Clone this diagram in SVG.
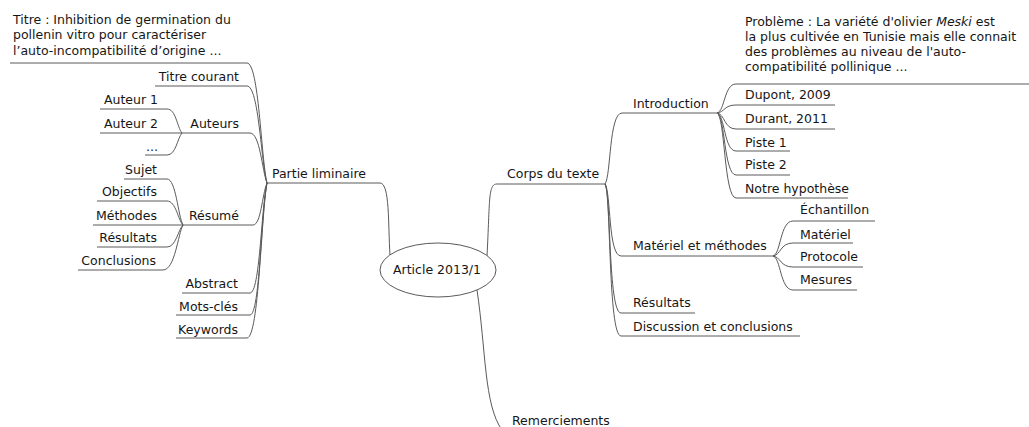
<svg xmlns="http://www.w3.org/2000/svg" width="1029" height="427" viewBox="0 0 1029 427">
<style>
text{font-family:"DejaVu Sans","Liberation Sans",sans-serif;font-size:12.5px;fill:#161616}
.e{text-anchor:end}
.m{text-anchor:middle}
.u{stroke:#5a5a5a;stroke-width:1;fill:none}
.c{stroke:#5a5a5a;stroke-width:1;fill:none}
</style>
<rect width="1029" height="427" fill="#ffffff"/>
<g id="connectors">
<path class="c" d="M380,183 C390,183 388,225 390,255"/>
<path class="c" d="M487,256 C490,200 488,184 497,184"/>
<path class="c" d="M477,290 C486,350 484,405 502,430"/>
<path class="c" d="M247,63 C259,63 261,158 267,183"/>
<path class="c" d="M247,86 C259,86 261,163 267,183"/>
<path class="c" d="M250,133 C260,133 262,170 267,183"/>
<path class="c" d="M253,225 C261,225 262,195 267,183"/>
<path class="c" d="M250,293 C260,293 261,210 267,183"/>
<path class="c" d="M250,315 C260,315 261,213 267,183"/>
<path class="c" d="M247,338 C259,338 261,216 267,183"/>
<path class="c" d="M167,109 C176,109 177,127 182,133"/>
<path class="c" d="M167,155 C176,155 177,139 182,133"/>
<path class="c" d="M167,179 C176,179 178,216 183,225"/>
<path class="c" d="M167,201 C176,201 178,220 183,225"/>
<path class="c" d="M167,247 C176,247 178,230 183,225"/>
<path class="c" d="M163,270 C175,270 178,234 183,225"/>
<path class="c" d="M605,184 C611,176 609,113 622,113"/>
<path class="c" d="M605,184 C611,192 608,256 621,256"/>
<path class="c" d="M605,184 C611,192 608,313 621,313"/>
<path class="c" d="M605,184 C611,192 608,336 621,336"/>
<path class="c" d="M717,113 C725,111 724,84 736,84"/>
<path class="c" d="M717,113 C725,112 724,105 736,105"/>
<path class="c" d="M717,113 C725,114 724,129 736,129"/>
<path class="c" d="M717,113 C725,115 724,151 736,151"/>
<path class="c" d="M717,113 C725,115 724,175 736,175"/>
<path class="c" d="M717,113 C725,115 724,198 736,198"/>
<path class="c" d="M773,256 C781,254 780,221 793,221"/>
<path class="c" d="M773,256 C781,255 780,243 793,243"/>
<path class="c" d="M773,256 C781,257 780,267 793,267"/>
<path class="c" d="M773,256 C781,258 780,290 793,290"/>
</g>
<g id="root">
<ellipse cx="438" cy="270" rx="58" ry="27" fill="#ffffff" stroke="#5a5a5a" stroke-width="1"/>
<text class="m" x="437" y="274">Article 2013/1</text>
</g>
<g id="partie-liminaire">
<text class="e" x="366" y="178">Partie liminaire</text>
<path class="u" d="M267,183 H380"/>
</g>
<g id="titre">
<text x="13" y="24">Titre : Inhibition de germination du</text>
<text x="13" y="39">pollenin vitro pour caractériser</text>
<text x="13" y="55">l’auto-incompatibilité d’origine ...</text>
<path class="u" d="M10,63 H247"/>
</g>
<g id="titre-courant">
<text class="e" x="239" y="81">Titre courant</text>
<path class="u" d="M155,86 H247"/>
</g>
<g id="auteurs">
<text class="e" x="239" y="128">Auteurs</text>
<path class="u" d="M182,133 H250"/>
</g>
<g id="auteur-1">
<text class="e" x="158" y="104">Auteur 1</text>
<path class="u" d="M100,109 H167"/>
</g>
<g id="auteur-2">
<text class="e" x="158" y="128">Auteur 2</text>
<path class="u" d="M100,133 H182"/>
</g>
<g id="auteur-etc">
<text class="e" x="158" y="151">...</text>
<path class="u" d="M145,155 H167"/>
</g>
<g id="resume">
<text class="e" x="239" y="220">Résumé</text>
<path class="u" d="M183,225 H253"/>
</g>
<g id="sujet">
<text class="e" x="157" y="174">Sujet</text>
<path class="u" d="M124,179 H167"/>
</g>
<g id="objectifs">
<text class="e" x="157" y="196">Objectifs</text>
<path class="u" d="M97,201 H167"/>
</g>
<g id="methodes">
<text class="e" x="157" y="220">Méthodes</text>
<path class="u" d="M93,225 H183"/>
</g>
<g id="resultats-resume">
<text class="e" x="157" y="242">Résultats</text>
<path class="u" d="M97,247 H167"/>
</g>
<g id="conclusions">
<text class="e" x="156" y="265">Conclusions</text>
<path class="u" d="M78,270 H163"/>
</g>
<g id="abstract">
<text class="e" x="238" y="288">Abstract</text>
<path class="u" d="M182,293 H250"/>
</g>
<g id="mots-cles">
<text class="e" x="238" y="311">Mots-clés</text>
<path class="u" d="M176,315 H250"/>
</g>
<g id="keywords">
<text class="e" x="238" y="334">Keywords</text>
<path class="u" d="M176,338 H247"/>
</g>
<g id="corps">
<text x="507" y="178">Corps du texte</text>
<path class="u" d="M497,184 H605"/>
</g>
<g id="introduction">
<text x="633" y="108">Introduction</text>
<path class="u" d="M622,113 H717"/>
</g>
<g id="probleme">
<text x="745" y="26">Problème : La variété d'olivier <tspan font-style="italic">Meski</tspan>  est</text>
<text x="745" y="41">la plus cultivée en Tunisie mais elle connait</text>
<text x="745" y="56">des problèmes au niveau de l'auto-</text>
<text x="745" y="71">compatibilité pollinique ...</text>
<path class="u" d="M736,84 H1029"/>
</g>
<g id="dupont">
<text x="745" y="99">Dupont, 2009</text>
<path class="u" d="M736,105 H835"/>
</g>
<g id="durant">
<text x="745" y="123">Durant, 2011</text>
<path class="u" d="M736,129 H835"/>
</g>
<g id="piste-1">
<text x="745" y="147">Piste 1</text>
<path class="u" d="M736,151 H790"/>
</g>
<g id="piste-2">
<text x="745" y="169">Piste 2</text>
<path class="u" d="M736,175 H790"/>
</g>
<g id="hypothese">
<text x="745" y="193">Notre hypothèse</text>
<path class="u" d="M736,198 H848"/>
</g>
<g id="materiel-methodes">
<text x="633" y="250">Matériel et méthodes</text>
<path class="u" d="M621,256 H773"/>
</g>
<g id="echantillon">
<text x="800" y="214">Échantillon</text>
<path class="u" d="M793,221 H875"/>
</g>
<g id="materiel">
<text x="800" y="239">Matériel</text>
<path class="u" d="M793,243 H853"/>
</g>
<g id="protocole">
<text x="800" y="261">Protocole</text>
<path class="u" d="M793,267 H863"/>
</g>
<g id="mesures">
<text x="800" y="284">Mesures</text>
<path class="u" d="M793,290 H857"/>
</g>
<g id="resultats">
<text x="633" y="307">Résultats</text>
<path class="u" d="M621,313 H695"/>
</g>
<g id="discussion">
<text x="633" y="331">Discussion et conclusions</text>
<path class="u" d="M621,336 H800"/>
</g>
<g id="remerciements">
<text x="512" y="425">Remerciements</text>
</g>
</svg>
